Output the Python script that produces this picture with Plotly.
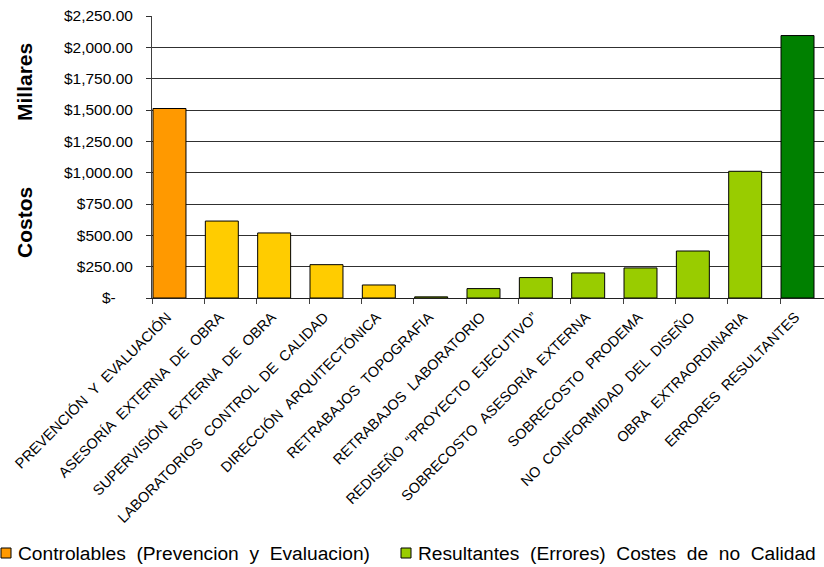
import plotly.graph_objects as go

# Cost categories (thousands of pesos)
categorias = [
    "PREVENCIÓN Y EVALUACIÓN",
    "ASESORÍA EXTERNA DE OBRA",
    "SUPERVISIÓN EXTERNA DE OBRA",
    "LABORATORIOS CONTROL DE CALIDAD",
    "DIRECCIÓN ARQUITECTÓNICA",
    "RETRABAJOS TOPOGRAFIA",
    "RETRABAJOS LABORATORIO",
    "REDISEÑO \u201cPROYECTO EJECUTIVO\u201d",
    "SOBRECOSTO ASESORÍA EXTERNA",
    "SOBRECOSTO PRODEMA",
    "NO CONFORMIDAD DEL DISEÑO",
    "OBRA EXTRAORDINARIA",
    "ERRORES RESULTANTES",
]
costos = [1512, 614, 519, 266, 104, 9, 75, 163, 200, 240, 375, 1011, 2094]

series_nombres = ["Controlables (Prevencion y Evaluacion)",
                  "Resultantes (Errores) Costes de no Calidad"]
series_idx = [[0, 1, 2, 3, 4], [5, 6, 7, 8, 9, 10, 11, 12]]
series_color = ["#FF9900", "#99CC00"]

colores = ["#FF9900", "#FFCC00", "#FFCC00", "#FFCC00", "#FFCC00",
           "#99CC00", "#99CC00", "#99CC00", "#99CC00", "#99CC00",
           "#99CC00", "#99CC00", "#008000"]

y_ticks = [0, 250, 500, 750, 1000, 1250, 1500, 1750, 2000, 2250]
y_text = ["$-" + "\u00a0" * 4] + [f"${v:,.2f}" for v in y_ticks[1:]]

font_fam = "Liberation Sans, Arial, sans-serif"
NB = "\u00a0"

# plot area in pixels (for placing legend / titles in the margins)
W, H = 824, 567
L, R, T, B = 152, 0, 16, 269
PW, PH = W - L - R, H - T - B


def px_x(px):
    return (px - L) / PW


def px_y(py):
    return (H - B - py) / PH


def wide(s):
    # widen the gaps between words
    return s.replace(" ", " " + NB)


fig = go.Figure()
for name, idx in zip(series_nombres, series_idx):
    fig.add_trace(go.Bar(
        x=[categorias[i] for i in idx],
        y=[costos[i] for i in idx],
        name=name,
        marker=dict(color=[colores[i] for i in idx],
                    line=dict(color="#000000", width=1)),
        width=0.63,
        offset=-0.481,
        showlegend=False,
    ))

fig.update_layout(
    width=W, height=H,
    margin=dict(l=L, r=R, t=T, b=B),
    paper_bgcolor="white", plot_bgcolor="white",
    barmode="overlay",
    font=dict(family=font_fam, color="#000000"),
)

fig.update_xaxes(
    automargin=False,
    categoryorder="array", categoryarray=categorias,
    tickmode="array", tickvals=categorias,
    ticktext=[wide(c) for c in categorias],
    range=[-0.5, 12.34],
    tickangle=-45,
    tickson="boundaries", ticks="outside", ticklen=5, tickcolor="#404040",
    ticklabelstandoff=4, ticklabelshift=-11,
    tickfont=dict(family=font_fam, size=14.5, color="#000000"),
    showline=True, linecolor="#202020", linewidth=1,
    showgrid=False,
)
fig.update_yaxes(
    automargin=False,
    range=[0, 2250],
    tickmode="array", tickvals=y_ticks, ticktext=y_text,
    ticks="outside", ticklen=5, tickcolor="#303030",
    ticklabelstandoff=10,
    tickfont=dict(family=font_fam, size=15.5, color="#000000"),
    showgrid=True, gridcolor="#303030", gridwidth=1,
    showline=True, linecolor="#404040", linewidth=1,
    zeroline=False,
)

# axis titles
for txt, yc in [("Millares", 82), ("Costos", 223)]:
    fig.add_annotation(
        text=f"<b>{txt}</b>", textangle=-90,
        xref="paper", yref="paper",
        x=px_x(24), y=px_y(yc),
        xanchor="center", yanchor="middle", showarrow=False,
        font=dict(family=font_fam, size=21, color="#000000"),
    )

# legend along the bottom
for name, col, sx in zip(series_nombres, series_color, [1, 401]):
    fig.add_shape(
        type="rect", xref="paper", yref="paper",
        x0=px_x(sx), x1=px_x(sx + 10), y0=px_y(558), y1=px_y(548),
        fillcolor=col, line=dict(color="#000000", width=1),
    )
    fig.add_annotation(
        text=wide(name), xref="paper", yref="paper",
        x=px_x(sx + 15), y=px_y(553),
        xanchor="left", yanchor="middle", showarrow=False,
        font=dict(family=font_fam, size=19.2, color="#000000"),
    )

fig.write_html("out.html")
